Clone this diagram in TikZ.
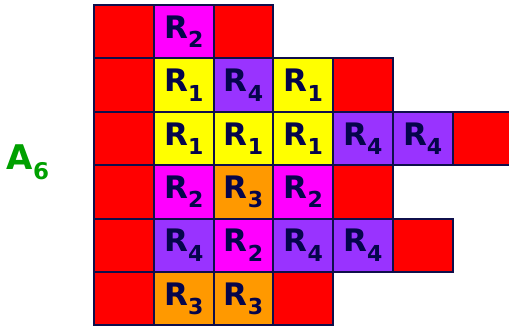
\documentclass[tikz,border=0pt]{standalone}
\usepackage{fontspec}
\setmainfont{DejaVu Sans}
\usetikzlibrary{positioning}

\definecolor{cellred}{RGB}{255,0,0}
\definecolor{cellmag}{RGB}{255,0,255}
\definecolor{cellyel}{RGB}{255,255,0}
\definecolor{cellpur}{RGB}{153,51,255}
\definecolor{cellora}{RGB}{255,153,0}
\definecolor{gridnavy}{RGB}{15,15,75}
\definecolor{textnavy}{RGB}{5,5,75}
\definecolor{labgreen}{RGB}{0,160,0}

\newcommand{\Rs}[1]{R\raisebox{-0.3em}{\fontsize{22}{22}\selectfont #1}}

\begin{document}
\begin{tikzpicture}[
  x=1pt, y=-1pt,
  cell/.style = {draw=gridnavy, line width=2pt, minimum width=59.7pt,
                 minimum height=53.4pt, inner sep=0pt, outer sep=0pt,
                 text=textnavy, font=\fontsize{31}{31}\bfseries\selectfont},
  rc/.style   = {cell, fill=cellred},
  mg/.style   = {cell, fill=cellmag},
  yl/.style   = {cell, fill=cellyel},
  pu/.style   = {cell, fill=cellpur},
  og/.style   = {cell, fill=cellora}
]
  \useasboundingbox (0,0) rectangle (509,326);
  \clip (0,0) rectangle (509,326);

  %% rows of cells, top to bottom
  \foreach \s/\t [count=\k from 0] in {rc/, mg/\Rs{2}, rc/}
    \node[\s] (c0-\k) at (124.15+59.7*\k, 31.7) {\t};
  \foreach \s/\t [count=\k from 0] in {rc/, yl/\Rs{1}, pu/\Rs{4}, yl/\Rs{1}, rc/}
    \node[\s] (c1-\k) at (124.15+59.7*\k, 85.1) {\t};
  \foreach \s/\t [count=\k from 0] in {rc/, yl/\Rs{1}, yl/\Rs{1}, yl/\Rs{1}, pu/\Rs{4}, pu/\Rs{4}, rc/}
    \node[\s] (c2-\k) at (124.15+59.7*\k, 138.5) {\t};
  \foreach \s/\t [count=\k from 0] in {rc/, mg/\Rs{2}, og/\Rs{3}, mg/\Rs{2}, rc/}
    \node[\s] (c3-\k) at (124.15+59.7*\k, 191.9) {\t};
  \foreach \s/\t [count=\k from 0] in {rc/, pu/\Rs{4}, mg/\Rs{2}, pu/\Rs{4}, pu/\Rs{4}, rc/}
    \node[\s] (c4-\k) at (124.15+59.7*\k, 245.3) {\t};
  \foreach \s/\t [count=\k from 0] in {rc/, og/\Rs{3}, og/\Rs{3}, rc/}
    \node[\s] (c5-\k) at (124.15+59.7*\k, 298.7) {\t};

  %% set label
  \node[text=labgreen, font=\fontsize{34}{34}\bfseries\selectfont]
    (lbl) at (28,162) {A\raisebox{-0.3em}{\fontsize{23}{23}\selectfont 6}};
\end{tikzpicture}
\end{document}
